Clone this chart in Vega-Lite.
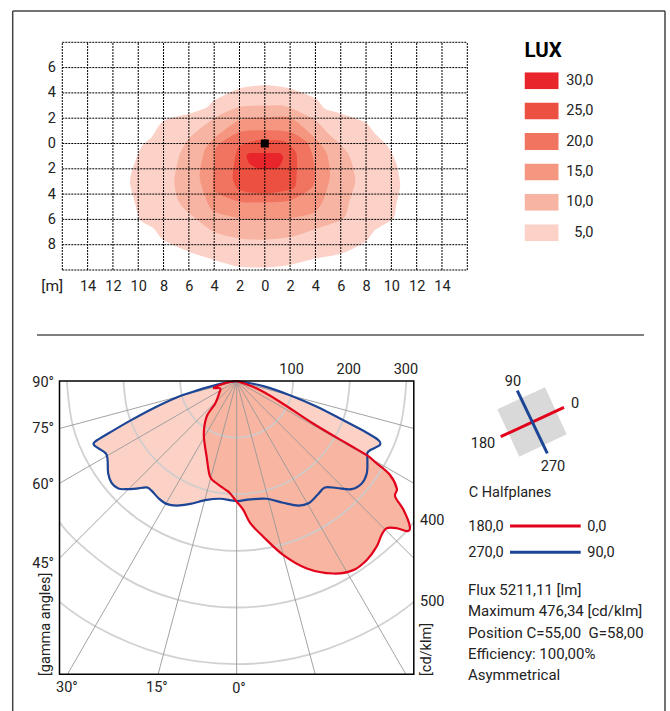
{"$schema":"https://vega.github.io/schema/vega-lite/v6.json","width":670,"height":711,"padding":0,"autosize":{"type":"none"},"background":"white","config":{"view":{"stroke":null},"text":{"font":"Roboto","fontSize":14.5,"fill":"#222"},"axis":{"labelFont":"Roboto","labelFontSize":14.5,"labelColor":"#222"},"legend":{"labelFont":"Roboto","titleFont":"Roboto"}},
"resolve":{"scale":{"x":"independent","y":"independent","color":"independent"},"axis":{"x":"independent","y":"independent"}},
"datasets":{
"contours":[
{"lux":"5,0","i":1,"x":0,"y":4.6},{"lux":"5,0","i":2,"x":2,"y":4.35},{"lux":"5,0","i":3,"x":4,"y":3.55},{"lux":"5,0","i":4,"x":4.75,"y":2.75},{"lux":"5,0","i":5,"x":5.9,"y":2.4},{"lux":"5,0","i":6,"x":7.9,"y":1.7},{"lux":"5,0","i":7,"x":8.7,"y":0.8},{"lux":"5,0","i":8,"x":9.75,"y":-0.25},{"lux":"5,0","i":9,"x":10.4,"y":-1.6},{"lux":"5,0","i":10,"x":10.7,"y":-3.3},{"lux":"5,0","i":11,"x":10.4,"y":-4.75},{"lux":"5,0","i":12,"x":10.15,"y":-5.9},{"lux":"5,0","i":13,"x":8.7,"y":-6.85},{"lux":"5,0","i":14,"x":7.9,"y":-7.8},{"lux":"5,0","i":15,"x":6.05,"y":-8.7},{"lux":"5,0","i":16,"x":4,"y":-9.1},{"lux":"5,0","i":17,"x":2,"y":-9.6},{"lux":"5,0","i":18,"x":0,"y":-9.8},{"lux":"5,0","i":19,"x":-2,"y":-9.75},{"lux":"5,0","i":20,"x":-4,"y":-9.2},{"lux":"5,0","i":21,"x":-6,"y":-8.55},{"lux":"5,0","i":22,"x":-8,"y":-7.65},{"lux":"5,0","i":23,"x":-8.8,"y":-6.7},{"lux":"5,0","i":24,"x":-9.85,"y":-6.05},{"lux":"5,0","i":25,"x":-10.25,"y":-4.75},{"lux":"5,0","i":26,"x":-10.65,"y":-3.15},{"lux":"5,0","i":27,"x":-10.45,"y":-2},{"lux":"5,0","i":28,"x":-9.75,"y":-0.25},{"lux":"5,0","i":29,"x":-8.95,"y":0.5},{"lux":"5,0","i":30,"x":-8,"y":1.8},{"lux":"5,0","i":31,"x":-6,"y":2.35},{"lux":"5,0","i":32,"x":-4.6,"y":2.85},{"lux":"5,0","i":33,"x":-4,"y":3.4},{"lux":"5,0","i":34,"x":-2,"y":4.35},
{"lux":"10,0","i":1,"x":0,"y":3.0},{"lux":"10,0","i":2,"x":1.45,"y":3.0},{"lux":"10,0","i":3,"x":2.75,"y":2.5},{"lux":"10,0","i":4,"x":4,"y":1.85},{"lux":"10,0","i":5,"x":5,"y":0.8},{"lux":"10,0","i":6,"x":5.9,"y":0},{"lux":"10,0","i":7,"x":6.7,"y":-1},{"lux":"10,0","i":8,"x":7.15,"y":-2.9},{"lux":"10,0","i":9,"x":6.7,"y":-4.5},{"lux":"10,0","i":10,"x":6.2,"y":-5.95},{"lux":"10,0","i":11,"x":4,"y":-6.75},{"lux":"10,0","i":12,"x":2,"y":-7.4},{"lux":"10,0","i":13,"x":0,"y":-7.6},{"lux":"10,0","i":14,"x":-2,"y":-7.5},{"lux":"10,0","i":15,"x":-4,"y":-7},{"lux":"10,0","i":16,"x":-6,"y":-5.5},{"lux":"10,0","i":17,"x":-6.85,"y":-4.5},{"lux":"10,0","i":18,"x":-7.15,"y":-2.9},{"lux":"10,0","i":19,"x":-6.7,"y":-0.8},{"lux":"10,0","i":20,"x":-5.9,"y":0.5},{"lux":"10,0","i":21,"x":-4,"y":2},{"lux":"10,0","i":22,"x":-2,"y":2.9},
{"lux":"15,0","i":1,"x":0,"y":2.05},{"lux":"15,0","i":2,"x":2,"y":2.05},{"lux":"15,0","i":3,"x":4,"y":0.4},{"lux":"15,0","i":4,"x":4.9,"y":-0.8},{"lux":"15,0","i":5,"x":5.15,"y":-2.6},{"lux":"15,0","i":6,"x":4.6,"y":-4.5},{"lux":"15,0","i":7,"x":3.85,"y":-5.5},{"lux":"15,0","i":8,"x":2,"y":-5.9},{"lux":"15,0","i":9,"x":0,"y":-6},{"lux":"15,0","i":10,"x":-2,"y":-5.9},{"lux":"15,0","i":11,"x":-4,"y":-5.4},{"lux":"15,0","i":12,"x":-4.6,"y":-4.5},{"lux":"15,0","i":13,"x":-5.15,"y":-2.6},{"lux":"15,0","i":14,"x":-4.75,"y":-0.5},{"lux":"15,0","i":15,"x":-4,"y":0.4},{"lux":"15,0","i":16,"x":-2,"y":1.85},
{"lux":"20,0","i":1,"x":0,"y":1.05},{"lux":"20,0","i":2,"x":2,"y":0.9},{"lux":"20,0","i":3,"x":3.4,"y":0},{"lux":"20,0","i":4,"x":3.9,"y":-1.6},{"lux":"20,0","i":5,"x":3.8,"y":-3.4},{"lux":"20,0","i":6,"x":2,"y":-4.5},{"lux":"20,0","i":7,"x":0,"y":-4.65},{"lux":"20,0","i":8,"x":-2,"y":-4.6},{"lux":"20,0","i":9,"x":-4,"y":-3.7},{"lux":"20,0","i":10,"x":-3.95,"y":-1.6},{"lux":"20,0","i":11,"x":-3.8,"y":-0.25},{"lux":"20,0","i":12,"x":-2,"y":0.9},
{"lux":"25,0","i":1,"x":0,"y":0.25},{"lux":"25,0","i":2,"x":0.9,"y":0.25},{"lux":"25,0","i":3,"x":1.7,"y":0.1},{"lux":"25,0","i":4,"x":2.5,"y":-0.8},{"lux":"25,0","i":5,"x":2.5,"y":-2.6},{"lux":"25,0","i":6,"x":2.25,"y":-3.55},{"lux":"25,0","i":7,"x":0,"y":-3.95},{"lux":"25,0","i":8,"x":-2,"y":-3.7},{"lux":"25,0","i":9,"x":-2.5,"y":-2.9},{"lux":"25,0","i":10,"x":-2.5,"y":-2.2},{"lux":"25,0","i":11,"x":-2.1,"y":-0.3},{"lux":"25,0","i":12,"x":-0.65,"y":0.25},
{"lux":"30,0","i":1,"x":0,"y":-0.75},{"lux":"30,0","i":2,"x":0.7,"y":-0.75},{"lux":"30,0","i":3,"x":1.2,"y":-0.77},{"lux":"30,0","i":4,"x":1.45,"y":-1.15},{"lux":"30,0","i":5,"x":1.05,"y":-1.9},{"lux":"30,0","i":6,"x":0,"y":-2},{"lux":"30,0","i":7,"x":-0.5,"y":-2},{"lux":"30,0","i":8,"x":-1.2,"y":-1.6},{"lux":"30,0","i":9,"x":-1.45,"y":-1},{"lux":"30,0","i":10,"x":-1.2,"y":-0.76},{"lux":"30,0","i":11,"x":-0.6,"y":-0.75}
],
"grid":[
{"x":-16,"x2":-16,"y":-10,"y2":8},{"x":-14,"x2":-14,"y":-10,"y2":8},{"x":-12,"x2":-12,"y":-10,"y2":8},{"x":-10,"x2":-10,"y":-10,"y2":8},{"x":-8,"x2":-8,"y":-10,"y2":8},{"x":-6,"x2":-6,"y":-10,"y2":8},{"x":-4,"x2":-4,"y":-10,"y2":8},{"x":-2,"x2":-2,"y":-10,"y2":8},{"x":0,"x2":0,"y":-10,"y2":8},{"x":2,"x2":2,"y":-10,"y2":8},{"x":4,"x2":4,"y":-10,"y2":8},{"x":6,"x2":6,"y":-10,"y2":8},{"x":8,"x2":8,"y":-10,"y2":8},{"x":10,"x2":10,"y":-10,"y2":8},{"x":12,"x2":12,"y":-10,"y2":8},{"x":14,"x2":14,"y":-10,"y2":8},{"x":16,"x2":16,"y":-10,"y2":8},
{"x":-16,"x2":16,"y":-10,"y2":-10},{"x":-16,"x2":16,"y":-8,"y2":-8},{"x":-16,"x2":16,"y":-6,"y2":-6},{"x":-16,"x2":16,"y":-4,"y2":-4},{"x":-16,"x2":16,"y":-2,"y2":-2},{"x":-16,"x2":16,"y":0,"y2":0},{"x":-16,"x2":16,"y":2,"y2":2},{"x":-16,"x2":16,"y":4,"y2":4},{"x":-16,"x2":16,"y":6,"y2":6},{"x":-16,"x2":16,"y":8,"y2":8}
],
"curves":[
{"plane":"blue","i":1,"x":0,"y":0},{"plane":"blue","i":2,"x":-29,"y":5},{"plane":"blue","i":3,"x":-71,"y":17},{"plane":"blue","i":4,"x":-106,"y":29},{"plane":"blue","i":5,"x":-147,"y":48},{"plane":"blue","i":6,"x":-188,"y":70},{"plane":"blue","i":7,"x":-224,"y":91},{"plane":"blue","i":8,"x":-250,"y":107},{"plane":"blue","i":9,"x":-252,"y":113},{"plane":"blue","i":10,"x":-244,"y":119},{"plane":"blue","i":11,"x":-231,"y":128},{"plane":"blue","i":12,"x":-228,"y":140},{"plane":"blue","i":13,"x":-227,"y":163},{"plane":"blue","i":14,"x":-221,"y":180},{"plane":"blue","i":15,"x":-209,"y":190},{"plane":"blue","i":16,"x":-194,"y":191},{"plane":"blue","i":17,"x":-177,"y":190},{"plane":"blue","i":18,"x":-159,"y":188},{"plane":"blue","i":19,"x":-150,"y":194},{"plane":"blue","i":20,"x":-138,"y":207},{"plane":"blue","i":21,"x":-124,"y":217},{"plane":"blue","i":22,"x":-106,"y":220},{"plane":"blue","i":23,"x":-82,"y":217},{"plane":"blue","i":24,"x":-53,"y":210},{"plane":"blue","i":25,"x":-29,"y":208},{"plane":"blue","i":26,"x":0,"y":212},{"plane":"blue","i":27,"x":24,"y":209},{"plane":"blue","i":28,"x":53,"y":208},{"plane":"blue","i":29,"x":82,"y":215},{"plane":"blue","i":30,"x":109,"y":220},{"plane":"blue","i":31,"x":127,"y":216},{"plane":"blue","i":32,"x":143,"y":201},{"plane":"blue","i":33,"x":156,"y":188},{"plane":"blue","i":34,"x":177,"y":189},{"plane":"blue","i":35,"x":203,"y":191},{"plane":"blue","i":36,"x":221,"y":181},{"plane":"blue","i":37,"x":230,"y":163},{"plane":"blue","i":38,"x":231,"y":140},{"plane":"blue","i":39,"x":231,"y":127},{"plane":"blue","i":40,"x":238,"y":121},{"plane":"blue","i":41,"x":253,"y":113},{"plane":"blue","i":42,"x":250,"y":104},{"plane":"blue","i":43,"x":224,"y":88},{"plane":"blue","i":44,"x":188,"y":69},{"plane":"blue","i":45,"x":141,"y":45},{"plane":"blue","i":46,"x":94,"y":25},{"plane":"blue","i":47,"x":47,"y":9},{"plane":"blue","i":48,"x":0,"y":0},
{"plane":"red","i":1,"x":0,"y":0},{"plane":"red","i":2,"x":-18,"y":3},{"plane":"red","i":3,"x":-40,"y":12},{"plane":"red","i":4,"x":-29,"y":13},{"plane":"red","i":5,"x":-31,"y":22},{"plane":"red","i":6,"x":-38,"y":40},{"plane":"red","i":7,"x":-53,"y":63},{"plane":"red","i":8,"x":-58,"y":95},{"plane":"red","i":9,"x":-53,"y":134},{"plane":"red","i":10,"x":-47,"y":169},{"plane":"red","i":11,"x":-35,"y":181},{"plane":"red","i":12,"x":-18,"y":193},{"plane":"red","i":13,"x":-12,"y":198},{"plane":"red","i":14,"x":0,"y":213},{"plane":"red","i":15,"x":12,"y":228},{"plane":"red","i":16,"x":24,"y":251},{"plane":"red","i":17,"x":47,"y":275},{"plane":"red","i":18,"x":82,"y":307},{"plane":"red","i":19,"x":124,"y":331},{"plane":"red","i":20,"x":171,"y":340},{"plane":"red","i":21,"x":206,"y":334},{"plane":"red","i":22,"x":230,"y":316},{"plane":"red","i":23,"x":247,"y":293},{"plane":"red","i":24,"x":256,"y":272},{"plane":"red","i":25,"x":265,"y":260},{"plane":"red","i":26,"x":283,"y":260},{"plane":"red","i":27,"x":301,"y":265},{"plane":"red","i":28,"x":306,"y":257},{"plane":"red","i":29,"x":295,"y":228},{"plane":"red","i":30,"x":280,"y":204},{"plane":"red","i":31,"x":283,"y":190},{"plane":"red","i":32,"x":271,"y":166},{"plane":"red","i":33,"x":247,"y":145},{"plane":"red","i":34,"x":230,"y":131},{"plane":"red","i":35,"x":194,"y":110},{"plane":"red","i":36,"x":135,"y":75},{"plane":"red","i":37,"x":77,"y":37},{"plane":"red","i":38,"x":35,"y":13},{"plane":"red","i":39,"x":0,"y":0}
],
"arcs":[
{"r":100,"i":1,"x":-100,"y":0},{"r":100,"i":2,"x":-96.6,"y":25.9},{"r":100,"i":3,"x":-86.6,"y":50},{"r":100,"i":4,"x":-70.7,"y":70.7},{"r":100,"i":5,"x":-50,"y":86.6},{"r":100,"i":6,"x":-25.9,"y":96.6},{"r":100,"i":7,"x":0,"y":100},{"r":100,"i":8,"x":25.9,"y":96.6},{"r":100,"i":9,"x":50,"y":86.6},{"r":100,"i":10,"x":70.7,"y":70.7},{"r":100,"i":11,"x":86.6,"y":50},{"r":100,"i":12,"x":96.6,"y":25.9},{"r":100,"i":13,"x":100,"y":0},
{"r":200,"i":1,"x":-200,"y":0},{"r":200,"i":2,"x":-193.2,"y":51.8},{"r":200,"i":3,"x":-173.2,"y":100},{"r":200,"i":4,"x":-141.4,"y":141.4},{"r":200,"i":5,"x":-100,"y":173.2},{"r":200,"i":6,"x":-51.8,"y":193.2},{"r":200,"i":7,"x":0,"y":200},{"r":200,"i":8,"x":51.8,"y":193.2},{"r":200,"i":9,"x":100,"y":173.2},{"r":200,"i":10,"x":141.4,"y":141.4},{"r":200,"i":11,"x":173.2,"y":100},{"r":200,"i":12,"x":193.2,"y":51.8},{"r":200,"i":13,"x":200,"y":0},
{"r":300,"i":1,"x":-300,"y":0},{"r":300,"i":2,"x":-289.8,"y":77.6},{"r":300,"i":3,"x":-259.8,"y":150},{"r":300,"i":4,"x":-212.1,"y":212.1},{"r":300,"i":5,"x":-150,"y":259.8},{"r":300,"i":6,"x":-77.6,"y":289.8},{"r":300,"i":7,"x":0,"y":300},{"r":300,"i":8,"x":77.6,"y":289.8},{"r":300,"i":9,"x":150,"y":259.8},{"r":300,"i":10,"x":212.1,"y":212.1},{"r":300,"i":11,"x":259.8,"y":150},{"r":300,"i":12,"x":289.8,"y":77.6},{"r":300,"i":13,"x":300,"y":0},
{"r":400,"i":1,"x":-313,"y":249},{"r":400,"i":2,"x":-282.8,"y":282.8},{"r":400,"i":3,"x":-200,"y":346.4},{"r":400,"i":4,"x":-103.5,"y":386.4},{"r":400,"i":5,"x":0,"y":400},{"r":400,"i":6,"x":103.5,"y":386.4},{"r":400,"i":7,"x":200,"y":346.4},{"r":400,"i":8,"x":282.8,"y":282.8},{"r":400,"i":9,"x":313,"y":249},
{"r":500,"i":1,"x":-313,"y":390},{"r":500,"i":2,"x":-250,"y":433},{"r":500,"i":3,"x":-129.4,"y":483},{"r":500,"i":4,"x":0,"y":500},{"r":500,"i":5,"x":129.4,"y":483},{"r":500,"i":6,"x":250,"y":433},{"r":500,"i":7,"x":313,"y":390}
],
"rays":[
{"x":0,"y":0,"x2":0,"y2":518},{"x":0,"y":0,"x2":-138.8,"y2":518},{"x":0,"y":0,"x2":138.8,"y2":518},{"x":0,"y":0,"x2":-299,"y2":518},{"x":0,"y":0,"x2":299,"y2":518},{"x":0,"y":0,"x2":-313,"y2":313},{"x":0,"y":0,"x2":313,"y2":313},{"x":0,"y":0,"x2":-313,"y2":180.7},{"x":0,"y":0,"x2":313,"y2":180.7},{"x":0,"y":0,"x2":-313,"y2":83.9},{"x":0,"y":0,"x2":313,"y2":83.9}
],
"polarLabels":[
{"t":"90°","x":-342,"y":1.8},{"t":"75°","x":-342,"y":83},{"t":"60°","x":-342,"y":182},{"t":"45°","x":-342,"y":321},{"t":"30°","x":-300,"y":541},{"t":"15°","x":-141,"y":541},{"t":"0°","x":4,"y":542},{"t":"100","x":97,"y":-21},{"t":"200","x":198,"y":-21},{"t":"300","x":299,"y":-21},{"t":"400","x":345.6,"y":245.5},{"t":"500","x":345.6,"y":388.6}
],
"polarTitles":[{"t":"[gamma angles]","x":-337,"y":521},{"t":"[cd/klm]","x":337,"y":521}],
"plate":[{"i":1,"x":-35,"y":12.7},{"i":2,"x":12.7,"y":34.7},{"i":3,"x":34.4,"y":-12.3},{"i":4,"x":-13,"y":-34.7}],
"keyLines":[
{"plane":"red","x":-31.6,"y":-14.7,"x2":31.7,"y2":14.7},{"plane":"blue","x":-15,"y":31.3,"x2":15,"y2":-31.3},
{"plane":"red","x":-22.3,"y":-104,"x2":48.4,"y2":-104},{"plane":"blue","x":-22.3,"y":-130.3,"x2":48.4,"y2":-130.3}
],
"page":[
{"x":-519.6,"y":411,"x2":132.7,"y2":411},{"x":-519.6,"y":411,"x2":-519.6,"y2":-289},{"x":132.7,"y":411,"x2":132.7,"y2":-289}
],
"separator":[{"x":-495.3,"y":87,"x2":111.7,"y2":87}],
"keyCentred":[{"t":"90","x":-19.3,"y":41},{"t":"0","x":42.7,"y":19.3},{"t":"180","x":-49.3,"y":-20.7},{"t":"270","x":20.7,"y":-44}],
"keyLeft":[{"t":"C Halfplanes","x":-63.6,"y":-69.7},{"t":"180,0","x":-64,"y":-104},{"t":"270,0","x":-64,"y":-130.3},{"t":"0,0","x":55,"y":-104},{"t":"90,0","x":55,"y":-130.3}],
"notes":[{"t":"Flux 5211,11 [lm]","x":-64.3,"y":-167.3},{"t":"Maximum 476,34 [cd/klm]","x":-64.3,"y":-188},{"t":"Position C=55,00\u00a0\u00a0G=58,00","x":-64.3,"y":-210.3},{"t":"Efficiency: 100,00%","x":-64.3,"y":-231.3},{"t":"Asymmetrical","x":-64.3,"y":-252}]
},
"layer":[
{"encoding":{"x":{"field":"x","type":"quantitative","scale":{"domain":[-16,16],"range":[62.3,467.3],"nice":false,"zero":false},"axis":{"orient":"bottom","offset":-441,"values":[-14,-12,-10,-8,-6,-4,-2,0,2,4,6,8,10,12,14],"labelExpr":"abs(datum.value)","domain":false,"ticks":false,"grid":false,"labelPadding":9,"title":null}},"y":{"field":"y","type":"quantitative","scale":{"domain":[-10,8],"range":[270,42.3],"nice":false,"zero":false},"axis":{"orient":"left","offset":-62.3,"values":[-8,-6,-4,-2,0,2,4,6],"labelExpr":"abs(datum.value)","domain":false,"ticks":false,"grid":false,"labelPadding":7,"title":null}}},
"layer":[
{"data":{"name":"contours"},"mark":{"type":"line","filled":true,"interpolate":"cardinal-closed","tension":0.3,"strokeWidth":0},"encoding":{"color":{"field":"lux","type":"nominal","sort":["30,0","25,0","20,0","15,0","10,0","5,0"],"scale":{"domain":["30,0","25,0","20,0","15,0","10,0","5,0"],"range":["#e8252b","#ec5040","#f0745f","#f59780","#f8b4a2","#fcd2c8"]},"legend":{"orient":"none","legendX":524.5,"legendY":41,"title":"LUX","titleFontSize":20.5,"titleFontWeight":"bold","titleColor":"#000","titlePadding":10.7,"symbolType":"M-1,-0.5H1V0.5H-1Z","symbolSize":1156,"symbolStrokeWidth":0,"symbolOpacity":1,"clipHeight":17,"rowPadding":13.4,"labelFontSize":14.5,"labelColor":"#222","labelAlign":"right","labelOffset":35}},"order":{"field":"i","type":"quantitative"}}},
{"data":{"name":"grid"},"mark":{"type":"rule","color":"#000","strokeWidth":1,"strokeDash":[2,1]},"encoding":{"x2":{"field":"x2"},"y2":{"field":"y2"}}},
{"data":{"values":[{"x":0,"y":0}]},"mark":{"type":"point","shape":"square","filled":true,"color":"#000","size":64,"opacity":1}},
{"data":{"values":[{"t":"[m]","x":-16.8,"y":-11.2}]},"mark":{"type":"text","align":"center","baseline":"middle","dy":1,"fontSize":15.5},"encoding":{"text":{"field":"t"}}}
]},
{"encoding":{"x":{"field":"x","type":"quantitative","scale":{"domain":[-313,313],"range":[59.5,413.8],"nice":false,"zero":false},"axis":null},"y":{"field":"y","type":"quantitative","scale":{"domain":[0,518],"range":[381,674.3],"nice":false,"zero":false},"axis":null}},
"layer":[
{"data":{"name":"curves"},"transform":[{"filter":"datum.plane==='blue'"}],"mark":{"type":"line","interpolate":"cardinal","fill":"#fcd2c7","strokeWidth":0},"encoding":{"order":{"field":"i","type":"quantitative"}}},
{"data":{"name":"curves"},"transform":[{"filter":"datum.plane==='red'"}],"mark":{"type":"line","interpolate":"cardinal","fill":"#f7b5a2","strokeWidth":0},"encoding":{"order":{"field":"i","type":"quantitative"}}},
{"data":{"name":"arcs"},"mark":{"type":"line","interpolate":"natural","color":"#ccc","strokeWidth":1.8,"opacity":0.9},"encoding":{"detail":{"field":"r"},"order":{"field":"i","type":"quantitative"}}},
{"data":{"name":"rays"},"mark":{"type":"rule","color":"#999","strokeWidth":0.9},"encoding":{"x2":{"field":"x2"},"y2":{"field":"y2"}}},
{"data":{"name":"curves"},"transform":[{"filter":"datum.plane==='blue'"}],"mark":{"type":"line","interpolate":"cardinal","color":"#1c4595","strokeWidth":2.2},"encoding":{"order":{"field":"i","type":"quantitative"}}},
{"data":{"name":"curves"},"transform":[{"filter":"datum.plane==='red'"}],"mark":{"type":"line","interpolate":"cardinal","color":"#e2001a","strokeWidth":2.2},"encoding":{"order":{"field":"i","type":"quantitative"}}},
{"data":{"values":[{"x":-313,"y":0,"x2":313,"y2":518}]},"mark":{"type":"rect","fill":null,"fillOpacity":0,"stroke":"#000","strokeWidth":1.5},"encoding":{"x2":{"field":"x2"},"y2":{"field":"y2"}}},
{"data":{"name":"polarLabels"},"mark":{"type":"text","align":"center","baseline":"middle","dy":1},"encoding":{"text":{"field":"t"}}},
{"data":{"name":"polarTitles"},"mark":{"type":"text","align":"left","baseline":"middle","angle":270},"encoding":{"text":{"field":"t"}}}
]},
{"encoding":{"x":{"field":"x","type":"quantitative","scale":{"domain":[-100,100],"range":[432.3,632.3],"nice":false,"zero":false},"axis":null},"y":{"field":"y","type":"quantitative","scale":{"domain":[-100,100],"range":[522,322],"nice":false,"zero":false},"axis":null}},
"layer":[
{"data":{"name":"plate"},"mark":{"type":"line","interpolate":"linear-closed","fill":"#d9d9d9","strokeWidth":0},"encoding":{"order":{"field":"i","type":"quantitative"}}},
{"data":{"name":"keyLines"},"mark":{"type":"rule","strokeWidth":3},"encoding":{"x2":{"field":"x2"},"y2":{"field":"y2"},"color":{"field":"plane","type":"nominal","scale":{"domain":["red","blue"],"range":["#e2001a","#1c4595"]},"legend":null}}},
{"data":{"name":"page"},"mark":{"type":"rule","color":"#444","strokeWidth":1.5},"encoding":{"x2":{"field":"x2"},"y2":{"field":"y2"}}},
{"data":{"name":"separator"},"mark":{"type":"rule","color":"#000","strokeWidth":1},"encoding":{"x2":{"field":"x2"},"y2":{"field":"y2"}}},
{"data":{"name":"keyCentred"},"mark":{"type":"text","align":"center","baseline":"middle","dy":1},"encoding":{"text":{"field":"t"}}},
{"data":{"name":"keyLeft"},"mark":{"type":"text","align":"left","baseline":"middle","dy":1},"encoding":{"text":{"field":"t"}}},
{"data":{"name":"notes"},"mark":{"type":"text","align":"left","baseline":"middle","dy":1,"fontSize":15},"encoding":{"text":{"field":"t"}}}
]}
]}
